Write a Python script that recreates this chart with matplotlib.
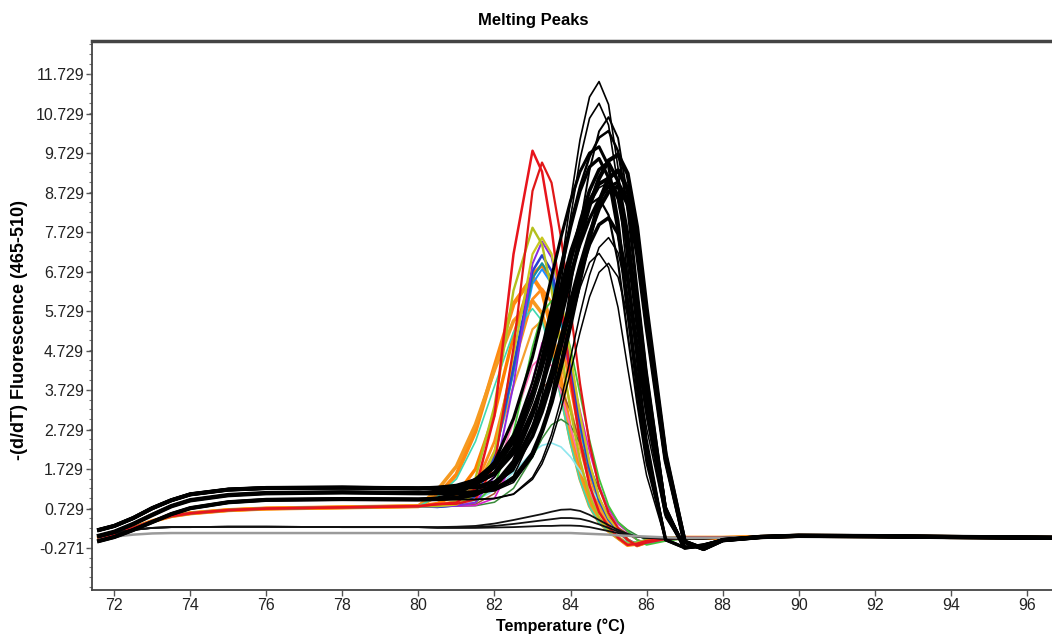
import numpy as np
import matplotlib.pyplot as plt
from matplotlib.ticker import MultipleLocator

plt.rcParams['axes.unicode_minus'] = False
fam = ['Liberation Sans Narrow', 'Liberation Sans', 'DejaVu Sans']

# temperature grid (deg C): shared left part, peak part, right tail
T_left = [71.6, 72.0, 72.5, 73.0, 73.5, 74.0, 75.0, 76.0, 78.0, 80.0]
T_mid = [80.5, 81.0, 81.5, 82.0, 82.5, 83.0, 83.25, 83.5, 83.75, 84.0, 84.25,
         84.5, 84.75, 85.0, 85.25, 85.5, 85.75, 86.0, 86.5, 87.0, 87.5]
T_right = [88.0, 89.0, 90.0, 92.0, 94.0, 96.7]

# left baselines
bk_base_hi = [0.2, 0.3, 0.5, 0.75, 0.95, 1.1, 1.22, 1.26, 1.27, 1.25]
bk_base_mid = [0.05, 0.15, 0.35, 0.58, 0.8, 0.95, 1.08, 1.13, 1.15, 1.13]
bk_base_lo = [-0.08, 0.02, 0.2, 0.4, 0.6, 0.75, 0.9, 0.96, 0.98, 0.97]
col_base = [0.0, 0.1, 0.25, 0.42, 0.55, 0.62, 0.7, 0.74, 0.77, 0.8]
low_base = [0.02, 0.12, 0.2, 0.25, 0.27, 0.27, 0.28, 0.28, 0.27, 0.27]
gray_base = [-0.05, 0.03, 0.08, 0.11, 0.12, 0.12, 0.12, 0.12, 0.12, 0.12]

# right tails
tail_bk = [-0.06, 0.02, 0.05, 0.04, 0.02, 0.0]
tail_col = [0.0, 0.02, 0.05, 0.04, 0.02, 0.0]

# black peaks (~85 C)
bk01 = [1.25, 1.25, 1.26, 1.35, 1.70, 2.81, 3.81, 5.17, 6.81, 8.53, 10.08, 11.16, 11.55, 10.97, 9.36, 6.93, 4.62, 2.54, -0.05, -0.25, -0.18]
bk02 = [1.13, 1.13, 1.14, 1.23, 1.56, 2.62, 3.59, 4.89, 6.46, 8.11, 9.59, 10.62, 11.0, 10.45, 8.91, 6.6, 4.4, 2.42, -0.05, -0.25, -0.18]
bk03 = [1.25, 1.25, 1.25, 1.29, 1.45, 2.05, 2.67, 3.59, 4.83, 6.33, 7.90, 9.31, 10.29, 10.65, 10.12, 8.63, 6.39, 4.26, 0.8, -0.25, -0.2]
bk04 = [1.15, 1.21, 1.38, 1.77, 2.57, 3.94, 4.83, 5.84, 6.92, 7.95, 8.9, 9.65, 10.13, 10.3, 9.79, 8.34, 6.18, 4.12, 0.77, -0.25, -0.2]
bk05 = [1.01, 1.11, 1.36, 1.92, 3.02, 4.58, 5.56, 6.6, 7.61, 8.53, 9.27, 9.74, 9.9, 9.41, 8.02, 5.94, 3.96, 2.18, -0.05, -0.25, -0.18]
bk06 = [1.26, 1.29, 1.39, 1.62, 2.15, 3.19, 3.84, 4.66, 5.59, 6.58, 7.54, 8.41, 9.1, 9.55, 9.7, 9.22, 7.86, 5.82, 2.13, -0.1, -0.28]
bk07 = [0.98, 1.0, 1.09, 1.35, 1.94, 3.1, 3.91, 4.88, 5.93, 7.0, 7.99, 8.79, 9.32, 9.5, 9.03, 7.7, 5.7, 3.8, 0.71, -0.25, -0.2]
bk08 = [1.13, 1.13, 1.15, 1.23, 1.49, 2.13, 2.7, 3.43, 4.36, 5.41, 6.54, 7.6, 8.5, 9.1, 9.3, 8.84, 7.53, 5.58, 2.05, -0.1, -0.28]
bk09 = [1.27, 1.32, 1.46, 1.8, 2.48, 3.65, 4.42, 5.28, 6.2, 7.09, 7.9, 8.54, 8.96, 9.1, 8.65, 7.37, 5.46, 3.64, 0.68, -0.25, -0.2]
bk10 = [0.98, 1.01, 1.1, 1.32, 1.81, 2.79, 3.4, 4.17, 5.05, 5.97, 6.87, 7.69, 8.34, 8.76, 8.9, 8.46, 7.21, 5.34, 1.96, -0.1, -0.28]
bk11 = [1.14, 1.19, 1.32, 1.67, 2.41, 3.71, 4.55, 5.47, 6.41, 7.28, 7.98, 8.44, 8.6, 8.17, 6.97, 5.16, 3.44, 1.89, -0.05, -0.25, -0.18]
bk12 = [1.25, 1.26, 1.29, 1.41, 1.77, 2.57, 3.18, 3.96, 4.84, 5.78, 6.68, 7.43, 7.93, 8.1, 7.7, 6.56, 4.86, 3.24, 0.61, -0.25, -0.2]
bk13 = [0.97, 0.97, 0.97, 1.0, 1.11, 1.53, 1.97, 2.62, 3.5, 4.55, 5.66, 6.65, 7.35, 7.6, 7.22, 6.16, 4.56, 3.04, 0.57, -0.25, -0.2]
bk14 = [1.13, 1.13, 1.14, 1.19, 1.4, 2.05, 2.64, 3.44, 4.41, 5.42, 6.33, 6.97, 7.2, 6.84, 5.83, 4.32, 2.88, 1.58, -0.05, -0.25, -0.18]
bk15 = [0.97, 0.97, 0.97, 0.99, 1.1, 1.48, 1.87, 2.46, 3.25, 4.2, 5.2, 6.1, 6.72, 6.95, 6.6, 5.63, 4.17, 2.78, 0.52, -0.25, -0.2]
bk16 = [0.99, 1.04, 1.19, 1.53, 2.23, 3.43, 4.21, 5.1, 6.04, 6.94, 7.77, 8.43, 8.86, 9.0, 8.55, 7.29, 5.4, 3.6, 0.68, -0.25, -0.2]
bk17 = [1.26, 1.28, 1.36, 1.62, 2.28, 3.6, 4.55, 5.63, 6.78, 7.86, 8.78, 9.39, 9.6, 9.12, 7.78, 5.76, 3.84, 2.11, -0.05, -0.25, -0.18]
bk18 = [1.18, 1.27, 1.48, 1.89, 2.59, 3.69, 4.36, 5.11, 5.91, 6.69, 7.43, 8.07, 8.57, 8.89, 9.0, 8.55, 7.29, 5.4, 1.98, -0.1, -0.28]

# coloured peaks (~83 C)
red1 = [0.85, 0.89, 1.24, 3.09, 7.18, 9.8, 9.27, 7.84, 5.95, 4.03, 2.45, 1.32, 0.65, 0.28, 0.0, -0.18, -0.15, -0.08, -0.02, 0.0, 0.0]
red2 = [0.85, 0.86, 0.97, 1.84, 4.81, 8.78, 9.5, 8.99, 7.6, 5.77, 3.9, 2.38, 1.28, 0.63, 0.25, -0.05, -0.2, -0.12, -0.03, 0.0, 0.0]
yel1 = [0.81, 0.92, 1.51, 3.34, 6.26, 7.85, 7.43, 6.28, 4.76, 3.23, 1.96, 1.06, 0.52, 0.2, -0.02, -0.15, -0.12, -0.06, -0.01, 0.0, 0.0]
yel2 = [0.8, 0.84, 1.1, 2.18, 4.63, 7.18, 7.6, 7.19, 6.08, 4.61, 3.12, 1.9, 1.03, 0.5, 0.2, -0.05, -0.18, -0.1, -0.02, 0.0, 0.0]
pur1 = [0.8, 0.81, 0.89, 1.56, 3.87, 6.94, 7.5, 7.1, 6.0, 4.55, 3.08, 1.88, 1.01, 0.5, 0.19, -0.05, -0.2, -0.1, -0.02, 0.0, 0.0]
blu1 = [0.78, 0.82, 1.06, 2.07, 4.37, 6.75, 7.15, 6.76, 5.72, 4.34, 2.94, 1.79, 0.97, 0.47, 0.18, -0.05, -0.17, -0.1, -0.02, 0.0, 0.0]
teal1 = [0.78, 0.82, 1.05, 2.03, 4.25, 6.57, 6.95, 6.57, 5.56, 4.22, 2.86, 1.74, 0.94, 0.46, 0.17, -0.05, -0.17, -0.1, -0.02, 0.0, 0.0]
org1 = [1.07, 1.6, 2.7, 4.33, 5.92, 6.6, 6.24, 5.28, 4.0, 2.71, 1.65, 0.89, 0.44, 0.19, 0.0, -0.18, -0.15, -0.08, -0.02, 0.0, 0.0]
org2 = [0.84, 0.92, 1.32, 2.44, 4.35, 6.04, 6.3, 5.96, 5.04, 3.82, 2.59, 1.58, 0.85, 0.42, 0.18, -0.05, -0.2, -0.12, -0.02, 0.0, 0.0]
org3 = [1.21, 1.81, 2.87, 4.25, 5.49, 6.0, 5.68, 4.8, 3.64, 2.47, 1.5, 0.81, 0.4, 0.17, 0.0, -0.17, -0.15, -0.08, -0.02, 0.0, 0.0]
org4 = [0.83, 0.91, 1.25, 2.2, 3.84, 5.28, 5.5, 5.2, 4.4, 3.34, 2.26, 1.38, 0.74, 0.36, 0.16, -0.05, -0.2, -0.12, -0.02, 0.0, 0.0]
org5 = [0.87, 1.09, 1.74, 3.14, 5.12, 6.67, 6.9, 6.53, 5.52, 4.19, 2.84, 1.72, 0.93, 0.46, 0.17, -0.05, -0.2, -0.12, -0.02, 0.0, 0.0]
grn1 = [0.8, 0.81, 0.89, 1.33, 2.67, 4.83, 5.68, 6.0, 5.68, 4.8, 3.64, 2.47, 1.5, 0.81, 0.4, 0.17, -0.05, -0.18, -0.08, -0.02, 0.0]
mag1 = [0.8, 0.8, 0.82, 1.0, 1.93, 3.98, 4.93, 5.3, 5.01, 4.24, 3.22, 2.18, 1.33, 0.72, 0.35, 0.15, -0.05, -0.15, -0.06, -0.01, 0.0]
pnk1 = [0.8, 0.82, 0.97, 1.57, 2.94, 4.36, 4.6, 4.35, 3.68, 2.79, 1.89, 1.15, 0.62, 0.3, 0.13, -0.05, -0.15, -0.08, -0.02, 0.0, 0.0]
sky1 = [0.8, 0.83, 1.06, 2.02, 4.18, 6.43, 6.8, 6.43, 5.44, 4.13, 2.79, 1.7, 0.92, 0.45, 0.17, -0.05, -0.18, -0.1, -0.02, 0.0, 0.0]
brn1 = [0.8, 0.8, 0.85, 1.12, 1.95, 3.28, 3.8, 4.0, 3.78, 3.2, 2.43, 1.64, 1.0, 0.54, 0.26, 0.1, -0.05, -0.12, -0.05, 0.0, 0.0]
aqua1 = [1.04, 1.49, 2.44, 3.84, 5.21, 5.8, 5.49, 4.64, 3.52, 2.38, 1.45, 0.78, 0.38, 0.17, 0.0, -0.12, -0.1, -0.05, -0.01, 0.0, 0.0]
cyan1 = [0.81, 0.83, 0.94, 1.2, 1.66, 2.17, 2.34, 2.4, 2.3, 2.05, 1.7, 1.3, 0.92, 0.6, 0.35, 0.18, 0.05, -0.03, -0.02, 0.0, 0.0]
dgrn1 = [0.8, 0.8, 0.81, 0.9, 1.25, 2.04, 2.51, 2.86, 3.0, 2.84, 2.4, 1.82, 1.23, 0.75, 0.4, 0.2, 0.06, -0.05, -0.03, 0.0, 0.0]

# low (no product) curves
lowA = [0.27, 0.28, 0.3, 0.36, 0.45, 0.55, 0.6, 0.66, 0.71, 0.72, 0.68, 0.58, 0.45, 0.32, 0.2, 0.1, 0.03, 0.0, -0.02, -0.02, -0.02]
lowB = [0.26, 0.26, 0.27, 0.3, 0.35, 0.41, 0.44, 0.47, 0.5, 0.5, 0.48, 0.42, 0.34, 0.25, 0.16, 0.08, 0.03, 0.0, -0.02, -0.02, -0.02]
lowC = [0.25, 0.25, 0.25, 0.26, 0.27, 0.29, 0.3, 0.3, 0.31, 0.31, 0.3, 0.27, 0.22, 0.17, 0.12, 0.07, 0.03, 0.0, -0.02, -0.02, -0.02]
grayA = [0.12, 0.12, 0.12, 0.12, 0.12, 0.12, 0.12, 0.12, 0.12, 0.12, 0.11, 0.1, 0.09, 0.08, 0.06, 0.05, 0.04, 0.03, 0.01, 0.0, 0.0]

y_ticks = [-0.271, 0.729, 1.729, 2.729, 3.729, 4.729, 5.729, 6.729, 7.729, 8.729, 9.729, 10.729, 11.729]
y_labels = ['-0.271', '0.729', '1.729', '2.729', '3.729', '4.729', '5.729', '6.729', '7.729', '8.729', '9.729', '10.729', '11.729']
x_ticks = [72, 74, 76, 78, 80, 82, 84, 86, 88, 90, 92, 94, 96]

temps = T_left + T_mid + T_right

fig = plt.figure(figsize=(10.52, 6.41), dpi=100)
ax = fig.add_axes([91.7 / 1052, 51 / 641, (1054 - 91.7) / 1052, 549 / 641])

# coloured curves first, black on top
colored = [
    (org1, '#ff8a10', 3.0), (org3, '#f59a20', 2.6), (org5, '#ff7f00', 2.4), (org2, '#ff8c1a', 2.0),
    (org4, '#f4a030', 1.6), (aqua1, '#3fd8b0', 1.2), (cyan1, '#8ee6ee', 1.2), (dgrn1, '#3a8a3a', 1.1),
    (brn1, '#a0522d', 1.1), (pnk1, '#ff6ab4', 1.2), (mag1, '#d61fc8', 1.2),
    (grn1, '#44c23a', 1.3), (sky1, '#1e90ff', 1.4), (teal1, '#16909c', 1.6),
    (blu1, '#2840d0', 1.8), (pur1, '#8a2be2', 1.4), (yel2, '#c8c820', 1.6),
    (yel1, '#b4c01c', 1.7), (red2, '#e01818', 1.6), (red1, '#e8141c', 1.8),
]
for vals, c, lw in colored:
    ax.plot(temps, col_base + vals + tail_col, color=c, lw=lw)

for vals in [lowA, lowB, lowC]:
    ax.plot(temps, low_base + vals + tail_col, color='#111111', lw=1.3)
ax.plot(temps, gray_base + grayA + tail_col, color='#9a9a9a', lw=1.8)

black = [
    (bk01, bk_base_hi, 1.2), (bk02, bk_base_mid, 1.2), (bk03, bk_base_hi, 1.4),
    (bk04, bk_base_mid, 1.8), (bk05, bk_base_lo, 2.2), (bk06, bk_base_hi, 3.0),
    (bk07, bk_base_lo, 2.6), (bk08, bk_base_mid, 3.2), (bk09, bk_base_hi, 2.8),
    (bk10, bk_base_lo, 3.0), (bk11, bk_base_mid, 1.6), (bk12, bk_base_hi, 2.6),
    (bk13, bk_base_lo, 1.1), (bk14, bk_base_mid, 1.1), (bk15, bk_base_lo, 1.1),
    (bk16, bk_base_lo, 1.1), (bk17, bk_base_hi, 2.4), (bk18, bk_base_mid, 2.4),
]
for vals, base, lw in black:
    ax.plot(temps, base + vals + tail_bk, color='black', lw=lw)

ax.set_xlim(71.406, 96.716)
ax.set_ylim(-1.322, 12.577)

ax.set_yticks(y_ticks)
ax.set_yticklabels(y_labels, family=fam, fontsize=11.5, color='#222222')
ax.yaxis.set_minor_locator(MultipleLocator(0.25))
ax.set_xticks(x_ticks)
ax.set_xticklabels([str(v) for v in x_ticks], family=fam, fontsize=11.5, color='#222222')
ax.tick_params(axis='both', which='major', length=4, width=1, color='#555555', pad=1.5)
ax.tick_params(axis='y', which='minor', length=2.5, width=0.8, color='#777777')

for s in ['left', 'bottom']:
    ax.spines[s].set_color('#444444')
    ax.spines[s].set_linewidth(1.3)
ax.spines['top'].set_color('#444444')
ax.spines['top'].set_linewidth(2.5)
ax.spines['right'].set_visible(False)

fig.text(533 / 1052, 1 - 20 / 641, 'Melting Peaks', ha='center', va='center',
         family=fam, fontsize=12, fontweight='bold')
fig.text(560 / 1052, 1 - 626 / 641, 'Temperature (°C)', ha='center', va='center',
         family=fam, fontsize=11.5, fontweight='bold')
fig.text(20 / 1052, 1 - 330 / 641, '-(d/dT) Fluorescence (465-510)', ha='center', va='center',
         rotation=90, family=fam, fontsize=13, fontweight='bold')

fig.savefig('out.png', dpi=100)
